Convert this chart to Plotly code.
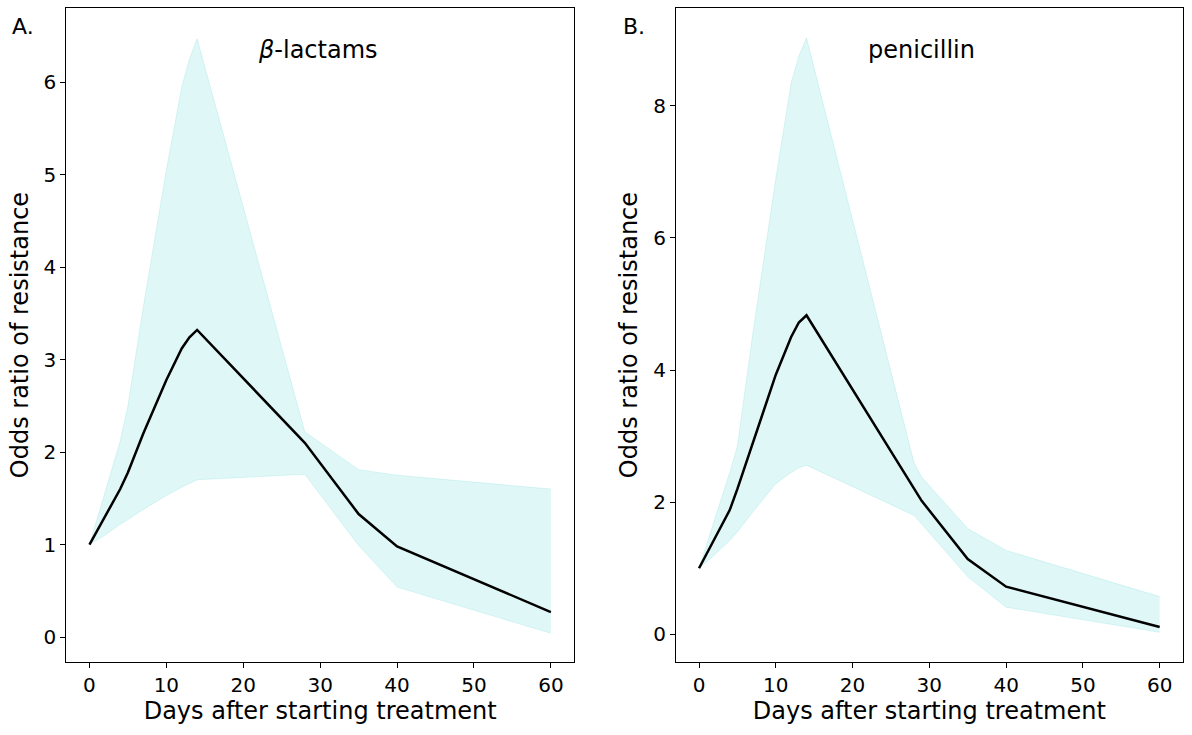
import plotly.graph_objects as go

# ---- data ----
days_a = [0, 2, 4, 5, 7, 10, 12, 13, 14, 28, 35, 40, 60]
mean_a = [1.0, 1.3, 1.6, 1.78, 2.2, 2.78, 3.12, 3.24, 3.32, 2.10, 1.33, 0.98, 0.27]
upper_a = [1.0, 1.56, 2.12, 2.5, 3.57, 5.05, 5.95, 6.25, 6.47, 2.22, 1.81, 1.75, 1.60]
lower_a = [1.0, 1.1, 1.22, 1.27, 1.38, 1.53, 1.62, 1.66, 1.70, 1.76, 0.99, 0.54, 0.04]

days_b = [0, 2, 4, 5, 7, 10, 12, 13, 14, 28, 29, 35, 40, 60]
mean_b = [1.0, 1.43, 1.88, 2.2, 2.9, 3.93, 4.5, 4.72, 4.83, 2.2, 2.02, 1.14, 0.72, 0.11]
upper_b = [1.0, 1.72, 2.45, 2.85, 4.55, 6.9, 8.35, 8.75, 9.03, 2.6, 2.38, 1.6, 1.27, 0.57]
lower_b = [1.0, 1.2, 1.42, 1.55, 1.85, 2.28, 2.45, 2.52, 2.56, 1.80, 1.67, 0.87, 0.41, 0.03]

panel_titles = ["<i>β</i>-lactams", "penicillin"]
panel_letters = ["A.", "B."]
x_title = "Days after starting treatment"
y_title = "Odds ratio of resistance"

FILL = "rgba(0,191,191,0.12)"
FONT = "DejaVu Sans"

fig = go.Figure()

panels = [
    (days_a, mean_a, upper_a, lower_a, "x", "y"),
    (days_b, mean_b, upper_b, lower_b, "x2", "y2"),
]
for d, m, u, l, xa, ya in panels:
    fig.add_trace(go.Scatter(x=d, y=l, mode="lines", line=dict(color=FILL, width=1),
                             xaxis=xa, yaxis=ya, showlegend=False, hoverinfo="skip"))
    fig.add_trace(go.Scatter(x=d, y=u, mode="lines", line=dict(color=FILL, width=1),
                             fill="tonexty", fillcolor=FILL,
                             xaxis=xa, yaxis=ya, showlegend=False, hoverinfo="skip"))
    fig.add_trace(go.Scatter(x=d, y=m, mode="lines", line=dict(color="black", width=2.5),
                             xaxis=xa, yaxis=ya, showlegend=False))

axis_common = dict(
    showgrid=False, zeroline=False, showline=True, linecolor="black", linewidth=1.2,
    mirror=True, ticks="outside", ticklen=5, tickwidth=1.2, tickcolor="black",
    tickfont=dict(family=FONT, size=20, color="black"),
)

yd = [0.0993, 0.989]
fig.update_layout(
    width=1192, height=735,
    margin=dict(l=0, r=0, t=0, b=0),
    paper_bgcolor="white", plot_bgcolor="white",
    font=dict(family=FONT, color="black"),
    xaxis=dict(domain=[0.0557, 0.4815], range=[-3, 63], tickvals=[0, 10, 20, 30, 40, 50, 60],
               anchor="y", title=dict(text=x_title, font=dict(size=24), standoff=5), **axis_common),
    yaxis=dict(domain=yd, range=[-0.27, 6.8], tickvals=[0, 1, 2, 3, 4, 5, 6], anchor="x",
               title=dict(text=y_title, font=dict(size=24), standoff=8), **axis_common),
    xaxis2=dict(domain=[0.5671, 0.9922], range=[-3, 63], tickvals=[0, 10, 20, 30, 40, 50, 60],
                anchor="y2", title=dict(text=x_title, font=dict(size=24), standoff=5), **axis_common),
    yaxis2=dict(domain=yd, range=[-0.42, 9.48], tickvals=[0, 2, 4, 6, 8], anchor="x2",
                title=dict(text=y_title, font=dict(size=24), standoff=8), **axis_common),
)

for i, (t, letter) in enumerate(zip(panel_titles, panel_letters)):
    fig.add_annotation(text=t, xref="paper", yref="paper",
                       x=(318 if i == 0 else 921) / 1192, y=1 - 50 / 735,
                       showarrow=False, xanchor="center", yanchor="middle",
                       font=dict(family=FONT, size=24, color="black"))
    fig.add_annotation(text=letter, xref="paper", yref="paper",
                       x=(10 if i == 0 else 621) / 1192, y=1 - 27 / 735,
                       showarrow=False, xanchor="left", yanchor="middle",
                       font=dict(family=FONT, size=22, color="black"))

fig.write_html("out.html", config={"displayModeBar": False},
               post_script="document.body.style.margin='0';")
